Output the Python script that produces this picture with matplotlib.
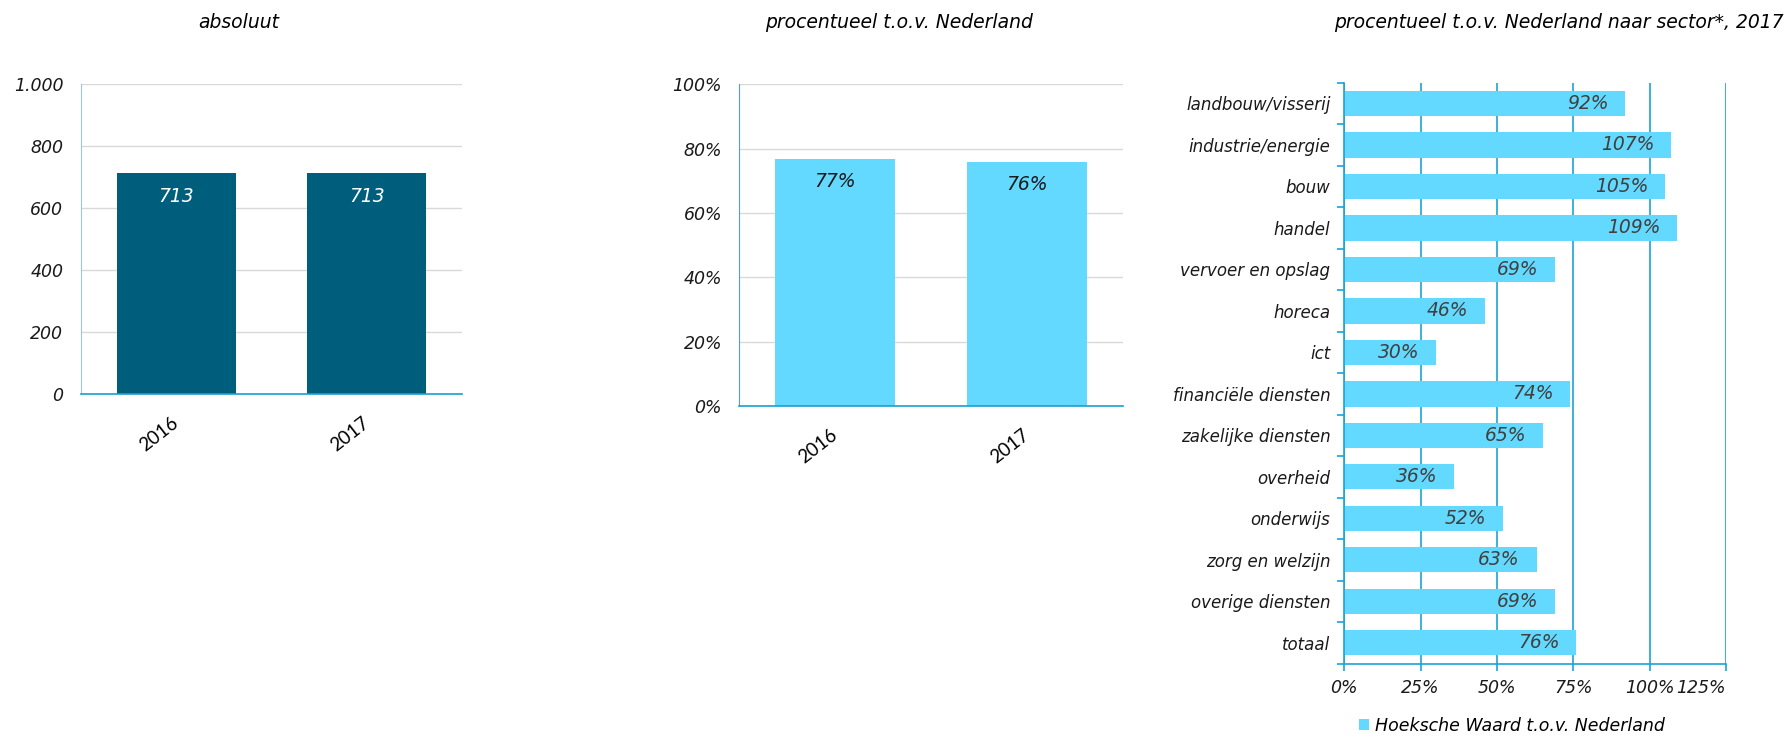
import numpy as np
import matplotlib.pyplot as plt
from matplotlib.ticker import FuncFormatter, FixedLocator
import matplotlib.transforms as mtransforms

plt.rcParams['font.family'] = ['DejaVu Sans']
plt.rcParams['font.style'] = 'italic'

years = ['2016', '2017']
absolute = [713, 713]
relative = [76.8, 75.9]
relative_labels = ['77%', '76%']

sectors = ['landbouw/visserij', 'industrie/energie', 'bouw', 'handel',
           'vervoer en opslag', 'horeca', 'ict', 'financiële diensten',
           'zakelijke diensten', 'overheid', 'onderwijs', 'zorg en welzijn',
           'overige diensten', 'totaal']
sector_pct = [92, 107, 105, 109, 69, 46, 30, 74, 65, 36, 52, 63, 69, 76]

dark = '#005E7D'
light = '#64D9FF'
grid_grey = '#D9D9D9'
blue_line = '#1AA3D6'
fs = 12
fs_big = 13.5

fig = plt.figure(figsize=(17.91, 7.36), dpi=100)

# --- panel 1: absolute
ax1 = fig.add_axes([0.04506, 0.4643, 0.2130, 0.4212])
x = np.arange(len(years))
ax1.bar(x, absolute, width=0.624, color=dark, zorder=2)
ax1.set_xlim(-0.5, 1.5)
ax1.set_ylim(0, 1000)
ax1.set_yticks(range(0, 1001, 200))
ax1.yaxis.set_major_formatter(FuncFormatter(lambda v, p: f'{int(v):,}'.replace(',', '.')))
ax1.grid(axis='y', color=grid_grey, lw=1, zorder=0)
for xi, v in zip(x, absolute):
    ax1.annotate(str(v), (xi, v), xytext=(0, -16.5), textcoords='offset points',
                 ha='center', va='center', color='white', fontsize=fs_big)

# --- panel 2: relative
ax2 = fig.add_axes([0.4128, 0.4480, 0.2141, 0.4375])
ax2.bar(x, relative, width=0.624, color=light, zorder=2)
ax2.set_xlim(-0.5, 1.5)
ax2.set_ylim(0, 100)
ax2.set_yticks(range(0, 101, 20))
ax2.yaxis.set_major_formatter(FuncFormatter(lambda v, p: f'{int(v)}%'))
ax2.grid(axis='y', color=grid_grey, lw=1, zorder=0)
for xi, v, lab in zip(x, relative, relative_labels):
    ax2.annotate(lab, (xi, v), xytext=(0, -16.5), textcoords='offset points',
                 ha='center', va='center', color='#1a1a1a', fontsize=fs_big)

for ax, lc in ((ax1, '#9DC3E6'), (ax2, '#5B9BD5')):
    ax.set_xticks(x)
    ax.set_xticklabels(years, rotation=38, ha='right', rotation_mode='anchor',
                       fontsize=13.5, family='Lato', style='normal', va='center')
    ax.tick_params(axis='x', length=0, pad=19)
    ax.tick_params(axis='y', length=0, pad=12.5, labelsize=12.5, labelcolor='#1a1a1a')
    for s in ('top', 'right'):
        ax.spines[s].set_visible(False)
    ax.spines['left'].set_color(lc)
    ax.spines['bottom'].set_color('#1AA0D0')
    ax.spines['bottom'].set_linewidth(1.2)

# --- panel 3: sectors
ax3 = fig.add_axes([0.7506, 0.0985, 0.2130, 0.7891])
y = np.arange(len(sectors))
bars = ax3.barh(y, [v / 100 for v in sector_pct], height=0.61, color=light,
                zorder=2, label='Hoeksche Waard t.o.v. Nederland')
ax3.set_ylim(len(sectors) - 0.5, -0.5)
ax3.set_xlim(0, 1.25)
ax3.set_xticks(np.arange(0, 1.26, 0.25))
ax3.xaxis.set_major_formatter(FuncFormatter(lambda v, p: f'{int(round(v * 100))}%'))
ax3.set_yticks(y)
ax3.set_yticklabels(sectors)
ax3.yaxis.set_minor_locator(FixedLocator(np.arange(-0.5, len(sectors), 1)))
ax3.tick_params(axis='y', which='major', length=0, pad=10, labelsize=fs, labelcolor='#1a1a1a')
ax3.tick_params(axis='y', which='minor', length=5, color=blue_line, width=1.2)
ax3.tick_params(axis='x', length=5, color=blue_line, width=1.2, pad=6,
                labelsize=12.5, labelcolor='#1a1a1a')
ax3.grid(axis='x', color=blue_line, lw=1.2, zorder=1)
for s in ('top', 'right'):
    ax3.spines[s].set_visible(False)
ax3.spines['left'].set_color(blue_line)
ax3.spines['bottom'].set_color(blue_line)
ax3.spines['left'].set_linewidth(1.2)
ax3.spines['bottom'].set_linewidth(1.2)
for yi, v in zip(y, sector_pct):
    ax3.annotate(f'{v}%', (v / 100, yi), xytext=(-12, 0), textcoords='offset points',
                 ha='right', va='center', color='#404040', fontsize=fs_big, zorder=3)

# last x tick label sits a little inside the plot area
fig.canvas.draw()
last = ax3.get_xticklabels()[-1]
last.set_transform(last.get_transform() +
                   mtransforms.ScaledTranslation(-0.25, 0, fig.dpi_scale_trans))

ax3.legend(handles=[bars], loc='center left', bbox_to_anchor=(0.7588, 0.014),
           bbox_transform=fig.transFigure, frameon=False, fontsize=12.5,
           handlelength=0.6, handleheight=0.6, handletextpad=0.3,
           borderpad=0, borderaxespad=0)

# titles
fig.text(238.5 / 1791, 1 - 23 / 736, 'absoluut', ha='center', va='center', fontsize=fs_big)
fig.text(899.5 / 1791, 1 - 23 / 736, 'procentueel t.o.v. Nederland',
         ha='center', va='center', fontsize=fs_big)
fig.text(1559 / 1791, 1 - 23 / 736, 'procentueel t.o.v. Nederland naar sector*, 2017',
         ha='center', va='center', fontsize=fs_big)

fig.savefig('out.png', dpi=100, facecolor='white')
